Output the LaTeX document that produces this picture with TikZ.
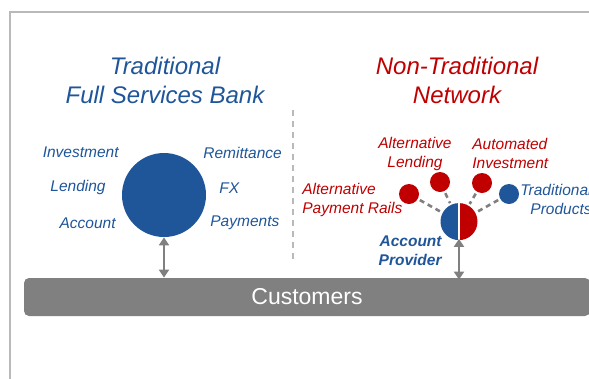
\documentclass[tikz,border=0pt]{standalone}
\usepackage{fontspec}
\setmainfont{Liberation Sans}
\usetikzlibrary{arrows.meta}
\definecolor{bankblue}{RGB}{31,85,153}
\definecolor{netred}{RGB}{192,0,0}
\definecolor{bargray}{RGB}{128,128,128}
\begin{document}
\begin{tikzpicture}[x=1pt, y=-1pt, thick,
    title/.style={font=\itshape\fontsize{24}{29}\selectfont, align=center},
    lbl/.style={font=\itshape\fontsize{15.5}{19}\selectfont, text=bankblue, inner sep=0pt},
    rlbl/.style={lbl, text=netred},
    dot/.style={circle, minimum size=20pt, inner sep=0pt},
    link/.style={bargray, line width=2.6pt, dash pattern=on 5pt off 4pt, shorten <=2pt, shorten >=2pt},
    twoway/.style={bargray, line width=2.6pt, {Triangle[width=10pt,length=8pt]}-{Triangle[width=10pt,length=8pt]}}]
    \clip (0,0) rectangle (589,378);

    % Frame
    \draw[gray!55, line width=2.6pt] (10,400) -- (10,12) -- (620,12);

    % Titles
    \node[title, text=bankblue] (ttrad) at (165,80) {Traditional\\Full Services Bank};
    \node[title, text=netred] (tnet) at (457,80) {Non-Traditional\\Network};

    % Divider
    \draw[gray!55, line width=2.4pt, dash pattern=on 6pt off 5pt] (293,110) -- (293,263);

    % Bank
    \node[circle, fill=bankblue, minimum size=84pt, inner sep=0pt] (bank) at (164,195) {};
    \node[lbl, anchor=east] (inv) at (119,152) {Investment};
    \node[lbl, anchor=east] (lend) at (106,187) {Lending};
    \node[lbl, anchor=east] (acct) at (116,223) {Account};
    \node[lbl, anchor=west] (remit) at (203,153) {Remittance};
    \node[lbl, anchor=west] (fx) at (219,188) {FX};
    \node[lbl, anchor=west] (pay) at (210,223) {Payments};

    % Account provider (split circle)
    \node[circle, minimum size=37pt, inner sep=0pt] (prov) at (459,222) {};
    \fill[bankblue] (prov.north) arc (90:270:18.5pt) -- cycle;
    \fill[netred] (prov.north) arc (90:-90:18.5pt) -- cycle;
    \draw[white, line width=1.5pt] (prov.north) -- (prov.south);
    \node[lbl, font=\bfseries\itshape\fontsize{15.5}{19}\selectfont, align=right, anchor=east] (provtxt) at (442,251) {Account\\Provider};

    % Network dots
    \node[dot, fill=netred] (altpay) at (409,194) {};
    \node[dot, fill=netred] (altlend) at (440,182) {};
    \node[dot, fill=netred] (autoinv) at (482,183) {};
    \node[dot, fill=bankblue] (tradprod) at (509,194) {};
    \draw[link] (altpay) -- (prov);
    \draw[link] (altlend) -- (prov);
    \draw[link] (autoinv) -- (prov);
    \draw[link] (tradprod) -- (prov);

    \node[rlbl, align=left, anchor=west] (altpaytxt) at (302,199.5) {Alternative\\Payment Rails};
    \node[rlbl, align=center] (altlendtxt) at (415,153.5) {Alternative\\Lending};
    \node[rlbl, align=left, anchor=west] (autoinvtxt) at (472,153.5) {Automated\\Investment};
    \node[lbl, align=right, anchor=east] (tradprodtxt) at (592,199.5) {Traditional\\Products};

    % Customers
    \node[fill=bargray, rounded corners=5pt, minimum width=566pt, minimum height=38pt, inner sep=0pt,
          text=white, font=\fontsize{23}{27}\selectfont] (cust) at (307,297) {Customers};
    \draw[twoway] (bank.south) -- (bank.south |- cust.north);
    \draw[twoway] ([yshift=2pt]prov.south) -- ([yshift=-2pt]prov.south |- cust.north);
\end{tikzpicture}
\end{document}
